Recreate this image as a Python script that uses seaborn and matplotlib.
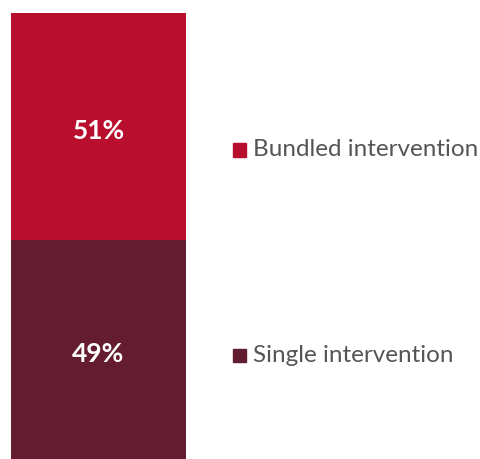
import matplotlib
matplotlib.use("Agg")
import matplotlib.pyplot as plt
import matplotlib.patches as mpatches
import matplotlib.transforms as mtransforms
import seaborn as sns
import pandas as pd

sns.set_theme(style="white")
plt.rcParams["font.family"] = ["Lato", "DejaVu Sans"]

categories = ["Single intervention", "Bundled intervention"]
shares = [49, 51]
colors = ["#631C30", "#B80F2F"]
legend_y = [355, 150]  # vertical pixel centre of each legend entry

W, H = 481, 459
fig = plt.figure(figsize=(W / 100, H / 100), dpi=100)
ax = fig.add_axes([11 / W, 0 / H, (186 - 11) / W, (459 - 13) / H])

# stacked single column: cumulative totals drawn back to front
df = pd.DataFrame({"group": ["All"], "bottom": [shares[0]], "total": [sum(shares)]})
sns.barplot(data=df, x="group", y="total", color=colors[1], width=1.0,
            saturation=1, ax=ax, linewidth=0)
sns.barplot(data=df, x="group", y="bottom", color=colors[0], width=1.0,
            saturation=1, ax=ax, linewidth=0)

ax.set_xlim(-0.5, 0.5)
ax.set_ylim(0, sum(shares))
ax.axis("off")

# value labels, nudged a few pixels below the segment centre
label_tf = mtransforms.offset_copy(ax.transData, fig=fig, y=-4, units="dots")
base = 0
for val in shares:
    ax.text(0, base + val / 2, f"{val}%", ha="center", va="center",
            color="white", fontsize=19, fontweight="bold", transform=label_tf)
    base += val

for cat, col, yp in zip(categories, colors, legend_y):
    fy = 1 - yp / H
    fig.patches.append(mpatches.Rectangle((233 / W, fy - 6.5 / H), 13 / W, 13 / H,
                                          transform=fig.transFigure, color=col))
    fig.text(253 / W, fy, cat, ha="left", va="center", color="#555555",
             fontsize=17.5)

fig.savefig("out.png", dpi=100)
